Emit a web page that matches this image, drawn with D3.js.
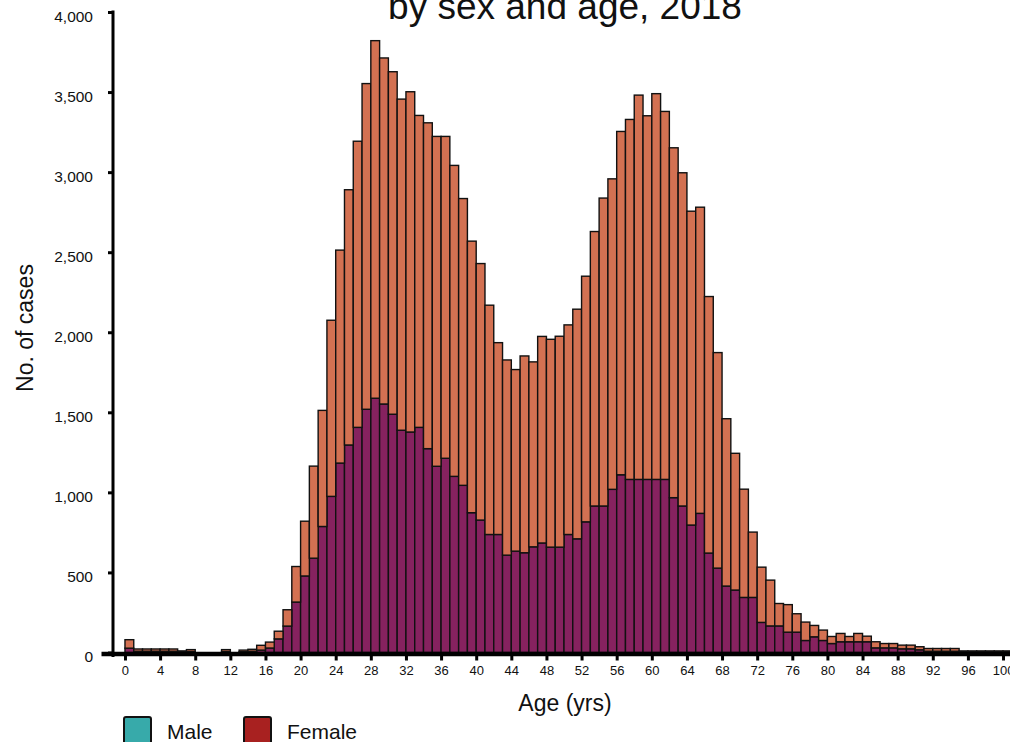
<!DOCTYPE html>
<html>
<head>
<meta charset="utf-8">
<script src="https://cdn.jsdelivr.net/npm/d3@7"></script>
<style>
  html, body { margin: 0; padding: 0; background: #fff; }
  svg { display: block; font-family: "Liberation Sans", Arial, sans-serif; }
</style>
</head>
<body>
<svg id="chart" width="1010" height="742"></svg>
<script>
// ---- data ----
const ages = d3.range(0, 101);
const totalCases = [
  80, 22, 22, 22, 22, 22, 10, 18, 0, 0,
  0, 18, 0, 15, 20, 45, 65, 133, 267, 537,
  820, 1164, 1512, 2075, 2513, 2890, 3193, 3553, 3821, 3713,
  3627, 3456, 3502, 3354, 3308, 3223, 3223, 3042, 2835, 2569,
  2429, 2169, 1935, 1827, 1767, 1852, 1815, 1974, 1956, 1975,
  2046, 2144, 2350, 2629, 2838, 2958, 3254, 3329, 3481, 3352,
  3490, 3379, 3152, 2996, 2756, 2781, 2223, 1873, 1460, 1244,
  1020, 752, 533, 452, 306, 299, 242, 190, 169, 140,
  100, 119, 100, 119, 102, 67, 56, 56, 46, 46,
  36, 25, 25, 25, 25, 10, 10, 10, 10, 10, 10
];
const femaleCases = [
  27, 8, 8, 8, 8, 8, 4, 6, 0, 0,
  0, 6, 0, 5, 8, 15, 28, 85, 165, 315,
  478, 589, 787, 975, 1183, 1296, 1406, 1519, 1588, 1552,
  1488, 1388, 1377, 1406, 1273, 1163, 1213, 1100, 1044, 873,
  827, 737, 737, 608, 633, 623, 660, 684, 658, 658,
  737, 710, 816, 915, 915, 1019, 1110, 1081, 1081, 1081,
  1081, 1081, 967, 915, 796, 869, 621, 527, 415, 390,
  344, 344, 188, 166, 166, 127, 127, 75, 98, 75,
  56, 67, 67, 67, 67, 29, 29, 29, 23, 23,
  17, 8, 8, 8, 8, 3, 3, 3, 3, 3, 3
];
const maleCases = totalCases.map((t, i) => t - femaleCases[i]);
const xTickValues = d3.range(0, 101, 4);
const yTickValues = d3.range(0, 4001, 500);
const legendLabels = ["Male", "Female"];
const legendColors = ["#37AAAA", "#A82120"];
const titleText = "by sex and age, 2018";

// ---- scales ----
const svg = d3.select("#chart");
const x = d3.scaleLinear().domain([-2.73, 101.5]).range([101, 1016.2]);
const y = d3.scaleLinear().domain([0, 4000]).range([652.5, 12]);

const FEMALE_FILL = "#86225F";
const MALE_FILL = "#D37152";

const rows = ages.map((a, i) => ({ age: a, female: femaleCases[i], male: maleCases[i] }));
const stack = d3.stack().keys(["female", "male"])(rows);
const fills = { female: FEMALE_FILL, male: MALE_FILL };

const g = svg.append("g");
stack.forEach(layer => {
  g.append("g")
    .selectAll("rect")
    .data(layer.filter(d => d[1] - d[0] > 0))
    .join("rect")
    .attr("x", d => x(d.data.age))
    .attr("width", d => x(d.data.age + 1) - x(d.data.age))
    .attr("y", d => y(d[1]))
    .attr("height", d => y(d[0]) - y(d[1]))
    .attr("fill", fills[layer.key])
    .attr("stroke", "#111")
    .attr("stroke-width", 1.4);
});

// ---- x axis ----
const xAxis = svg.append("g")
  .attr("transform", "translate(0,653.5)")
  .call(d3.axisBottom(x).tickValues(xTickValues).tickSize(7).tickSizeOuter(0).tickPadding(5));
xAxis.select(".domain").attr("stroke", "#000").attr("stroke-width", 4.5);
xAxis.selectAll(".tick line").attr("stroke", "#000").attr("stroke-width", 3);
xAxis.selectAll(".tick text").attr("font-size", 13).attr("fill", "#111")
  .attr("font-family", "Liberation Sans, Arial, sans-serif");

// ---- y axis ----
const yAxis = svg.append("g")
  .attr("transform", "translate(113,0)")
  .call(d3.axisLeft(y).tickValues(yTickValues).tickFormat(d3.format(",")).tickSize(5).tickSizeOuter(0).tickPadding(15));
yAxis.select(".domain").remove();
yAxis.append("line")
  .attr("x1", 0).attr("x2", 0)
  .attr("y1", y(4000) - 1.5).attr("y2", 657)
  .attr("stroke", "#000").attr("stroke-width", 3);
yAxis.selectAll(".tick line").attr("stroke", "#000").attr("stroke-width", 3);
yAxis.selectAll(".tick text").attr("font-size", 15.5).attr("fill", "#111")
  .attr("dy", "0.58em")
  .attr("font-family", "Liberation Sans, Arial, sans-serif");

// ---- titles ----
svg.append("text")
  .attr("x", 565).attr("y", 19)
  .attr("text-anchor", "middle")
  .attr("font-size", 37).attr("fill", "#111")
  .text(titleText);

svg.append("text")
  .attr("x", 565).attr("y", 711)
  .attr("text-anchor", "middle")
  .attr("font-size", 23).attr("fill", "#111")
  .text("Age (yrs)");

svg.append("text")
  .attr("transform", "translate(33,328) rotate(-90)")
  .attr("text-anchor", "middle")
  .attr("font-size", 23).attr("fill", "#111")
  .text("No. of cases");

// ---- legend ----
const legendX = [123, 243];
const lg = svg.append("g");
legendLabels.forEach((lab, i) => {
  lg.append("rect")
    .attr("x", legendX[i] + 1).attr("y", 717)
    .attr("width", 27).attr("height", 28)
    .attr("rx", 2)
    .attr("fill", legendColors[i])
    .attr("stroke", "#111").attr("stroke-width", 2);
  lg.append("text")
    .attr("x", legendX[i] + 44).attr("y", 739)
    .attr("font-size", 21).attr("fill", "#111")
    .text(lab);
});
</script>
</body>
</html>
